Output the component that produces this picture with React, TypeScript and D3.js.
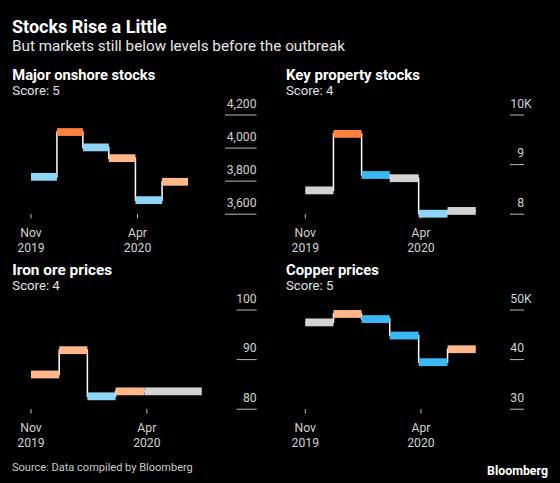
import React, { useLayoutEffect, useRef, useState } from "react";
import * as d3 from "d3";

// ---------- data ----------
const periodStarts = ["2019-11-01", "2019-12-08", "2020-01-14", "2020-02-20", "2020-03-29", "2020-05-06"];
const periodEnd = "2020-06-12";
const xTickDates = ["2019-11-01", "2020-04-01"];
const xTickMonths = ["Nov", "Apr"];
const xTickYears = ["2019", "2020"];

const panelTitles = ["Major onshore stocks", "Key property stocks", "Iron ore prices", "Copper prices"];
const panelScores = [5, 4, 4, 5];

const onshoreValues = [3826, 4097, 4004, 3939, 3685, 3796];
const propertyValues = [8480, 9620, 8790, 8726, 8010, 8066];
const ironOreValues = [87.0, 91.9, 82.6, 83.6, 83.6, 83.6];
const copperValues = [47500, 49200, 48170, 44850, 39480, 42090];

const onshoreSignals = ["down", "up2", "down", "up", "down", "up"];
const propertySignals = ["flat", "up2", "down2", "flat", "down", "flat"];
const ironOreSignals = ["up", "up", "down", "up", "flat", "flat"];
const copperSignals = ["flat", "up", "down2", "down2", "down2", "up"];

const onshoreTicks = [3600, 3800, 4000, 4200];
const propertyTicks = [8000, 9000, 10000];
const ironOreTicks = [80, 90, 100];
const copperTicks = [30000, 40000, 50000];

const onshoreTickLabels = ["3,600", "3,800", "4,000", "4,200"];
const propertyTickLabels = ["8", "9", "10"];
const ironOreTickLabels = ["80", "90", "100"];
const copperTickLabels = ["30", "40", "50"];
const propertyTickSuffix = ["", "", "K"];
const copperTickSuffix = ["", "", "K"];
const noSuffix = ["", "", "", ""];

const signalColors: Record<string, string> = {
  up2: "#ff8142",
  up: "#ffb689",
  flat: "#d3d3d3",
  down: "#8dd4f7",
  down2: "#3bb8f3",
};

// ---------- layout ----------
const W = 560;
const H = 483;
const FONT = "Roboto, 'Noto Sans', sans-serif";

const parse = d3.timeParse("%Y-%m-%d");

// text that scales its font size so that its width matches a target width
function FitText(props: {
  x: number;
  y: number;
  width: number;
  size: number;
  fill: string;
  bold?: boolean;
  anchor?: string;
  children: string;
}) {
  const ref = useRef<SVGTextElement>(null);
  const [fs, setFs] = useState(props.size);
  useLayoutEffect(() => {
    const el = ref.current;
    if (!el) return;
    const w = el.getComputedTextLength();
    if (w > 0) {
      const next = (fs * props.width) / w;
      if (Math.abs(next - fs) > 0.05) setFs(next);
    }
  });
  return (
    <text
      ref={ref}
      x={props.x}
      y={props.y}
      fill={props.fill}
      fontFamily={FONT}
      fontWeight={props.bold ? "bold" : "normal"}
      fontSize={fs}
      textAnchor={props.anchor || "start"}
    >
      {props.children}
    </text>
  );
}

type Panel = {
  title: string;
  titleWidth: number;
  score: number;
  values: number[];
  signals: string[];
  ticks: number[];
  tickLabels: string[];
  suffix: string[];
  ox: number;
  oy: number;
  xr: [number, number];
  tickLine: [number, number];
  labelRight: number;
  yDomain: [number, number];
  titleX: number;
};

const panels: Panel[] = [
  {
    title: panelTitles[0], titleWidth: 143, score: panelScores[0], values: onshoreValues, signals: onshoreSignals,
    ticks: onshoreTicks, tickLabels: onshoreTickLabels, suffix: noSuffix,
    ox: 0, oy: 60, xr: [31, 188], tickLine: [225, 256.5], labelRight: 256.5, yDomain: [3600, 4200], titleX: 12.3,
  },
  {
    title: panelTitles[1], titleWidth: 134, score: panelScores[1], values: propertyValues, signals: propertySignals,
    ticks: propertyTicks, tickLabels: propertyTickLabels, suffix: propertyTickSuffix,
    ox: 280, oy: 60, xr: [25.3, 195.7], tickLine: [230, 244], labelRight: 244, yDomain: [8000, 10000], titleX: 6,
  },
  {
    title: panelTitles[2], titleWidth: 100, score: panelScores[2], values: ironOreValues, signals: ironOreSignals,
    ticks: ironOreTicks, tickLabels: ironOreTickLabels, suffix: noSuffix,
    ox: 0, oy: 255, xr: [31, 201.7], tickLine: [236.7, 256.7], labelRight: 256.7, yDomain: [80, 100], titleX: 12.3,
  },
  {
    title: panelTitles[3], titleWidth: 93, score: panelScores[3], values: copperValues, signals: copperSignals,
    ticks: copperTicks, tickLabels: copperTickLabels, suffix: copperTickSuffix,
    ox: 280, oy: 255, xr: [25.3, 195.7], tickLine: [230, 244], labelRight: 244, yDomain: [30000, 50000], titleX: 6,
  },
];

const BAND = 7.8;

function PanelView({ p }: { p: Panel }) {
  const starts = periodStarts.map((s) => parse(s)!);
  const end = parse(periodEnd)!;
  const x = d3.scaleTime().domain([starts[0], end]).range(p.xr);
  const y = d3.scaleLinear().domain(p.yDomain).range([154.2, 55]);

  const pts: [Date, number][] = starts.map((d, i) => [d, p.values[i]]);
  pts.push([end, p.values[p.values.length - 1]]);
  const line = d3
    .line<[Date, number]>()
    .x((d) => x(d[0]))
    .y((d) => y(d[1]))
    .curve(d3.curveStepAfter);

  // merge consecutive identical periods into one band
  const runs: { from: Date; to: Date; value: number; signal: string }[] = [];
  starts.forEach((d, i) => {
    const next = i + 1 < starts.length ? starts[i + 1] : end;
    const last = runs[runs.length - 1];
    if (last && last.value === p.values[i] && last.signal === p.signals[i]) {
      last.to = next;
    } else {
      runs.push({ from: d, to: next, value: p.values[i], signal: p.signals[i] });
    }
  });

  return (
    <g transform={`translate(${p.ox},${p.oy})`}>
      <FitText x={p.titleX} y={20} width={p.titleWidth} size={14} fill="#ffffff" bold>
        {p.title}
      </FitText>
      <FitText x={p.titleX} y={34.5} width={47.5} size={13} fill="#e0e0e0">
        {`Score: ${p.score}`}
      </FitText>

      {/* y axis */}
      {p.ticks.map((t, i) => (
        <g key={t}>
          <line x1={p.tickLine[0]} x2={p.tickLine[1]} y1={y(t)} y2={y(t)} stroke="#b8b8b8" strokeWidth={1} />
          <text x={p.labelRight} y={y(t) - 7.5} fill="#d0d0d0" fontFamily={FONT} fontSize={12.2} textAnchor="end">
            {p.tickLabels[i]}
          </text>
          {p.suffix[i] ? (
            <text x={p.labelRight} y={y(t) - 7.5} fill="#d0d0d0" fontFamily={FONT} fontSize={12.2} textAnchor="start">
              {p.suffix[i]}
            </text>
          ) : null}
        </g>
      ))}

      {/* x axis */}
      {xTickDates.map((s, i) => {
        const xx = x(parse(s)!);
        return (
          <g key={s}>
            <line x1={xx} x2={xx} y1={154} y2={158.5} stroke="#b8b8b8" strokeWidth={1} />
            <text x={xx} y={176.5} fill="#d0d0d0" fontFamily={FONT} fontSize={12.2} textAnchor="middle">
              {xTickMonths[i]}
            </text>
            <text x={xx} y={192} fill="#d0d0d0" fontFamily={FONT} fontSize={12.2} textAnchor="middle">
              {xTickYears[i]}
            </text>
          </g>
        );
      })}

      {/* step line */}
      <path d={line(pts) || ""} fill="none" stroke="#ffffff" strokeWidth={1.5} />
      {/* bands */}
      {runs.map((r, i) => {
        const x0 = x(r.from);
        const x1 = x(r.to);
        return (
          <rect
            key={i}
            x={x0}
            width={x1 - x0}
            y={y(r.value) - BAND / 2}
            height={BAND}
            fill={signalColors[r.signal]}
          />
        );
      })}
    </g>
  );
}

export default function App() {
  return (
    <svg
      width={W}
      height={H}
      viewBox={`0 0 ${W} ${H}`}
      style={{ position: "absolute", left: 0, top: 0, display: "block" }}
    >
      <rect x={0} y={0} width={W} height={H} fill="#000000" />
      <FitText x={12} y={32.7} width={155} size={17} fill="#ffffff" bold>
        Stocks Rise a Little
      </FitText>
      <FitText x={12} y={50.7} width={333} size={15} fill="#e6e6e6">
        But markets still below levels before the outbreak
      </FitText>
      {panels.map((p) => (
        <PanelView key={p.title} p={p} />
      ))}
      <FitText x={12} y={470.5} width={181} size={11.5} fill="#c8c8c8">
        Source: Data compiled by Bloomberg
      </FitText>
      <FitText x={548} y={475} width={61} size={12.5} fill="#ffffff" bold anchor="end">
        Bloomberg
      </FitText>
    </svg>
  );
}
